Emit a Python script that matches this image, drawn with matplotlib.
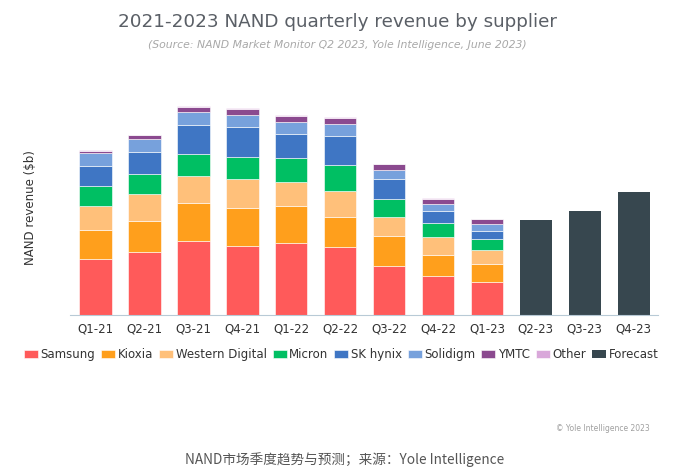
import numpy as np
import matplotlib
matplotlib.use('Agg')
import matplotlib.pyplot as plt

quarters = ['Q1-21', 'Q2-21', 'Q3-21', 'Q4-21', 'Q1-22', 'Q2-22', 'Q3-22', 'Q4-22', 'Q1-23',
            'Q2-23', 'Q3-23', 'Q4-23']
suppliers = ['Samsung', 'Kioxia', 'Western Digital', 'Micron', 'SK hynix', 'Solidigm', 'YMTC', 'Other']
colors = ['#FF5A5A', '#FF9F1C', '#FFC07A', '#00BF63', '#3F76C4', '#77A1DC', '#8B4A8F', '#D9A8DA']

# revenue, $b (Q1-21 .. Q1-23)
samsung = [5.12, 5.73, 6.73, 6.30, 6.52, 6.15, 4.43, 3.55, 2.97]
kioxia = [2.58, 2.82, 3.43, 3.43, 3.36, 2.73, 2.73, 1.91, 1.64]
western_digital = [2.18, 2.43, 2.48, 2.64, 2.21, 2.42, 1.75, 1.66, 1.33]
micron = [1.82, 1.82, 1.97, 2.00, 2.15, 2.31, 1.64, 1.22, 0.97]
sk_hynix = [1.87, 2.05, 2.64, 2.73, 2.21, 2.64, 1.82, 1.15, 0.75]
solidigm = [1.18, 1.18, 1.21, 1.06, 1.09, 1.09, 0.79, 0.64, 0.61]
ymtc = [0.18, 0.31, 0.45, 0.55, 0.57, 0.60, 0.55, 0.43, 0.43]
other = [0.06, 0.05, 0.09, 0.09, 0.09, 0.09, 0.05, 0.06, 0.05]
forecast = [8.61, 9.48, 11.15]  # Q2-23 .. Q4-23

series = [samsung, kioxia, western_digital, micron, sk_hynix, solidigm, ymtc, other]

fig = plt.figure(figsize=(6.75, 4.69), dpi=100)
ax = fig.add_axes([0.104, 0.328, 0.871, 0.458])

x = np.arange(len(quarters))
w = 0.66
bottom = np.zeros(len(samsung))
for name, vals, c in zip(suppliers, series, colors):
    ax.bar(x[:len(vals)], vals, w, bottom=bottom, color=c, label=name, edgecolor='white', linewidth=0.4)
    bottom += np.array(vals)
ax.bar(x[len(samsung):], forecast, w, color='#37474F', label='Forecast')

ax.set_xlim(-0.52, 11.5)
ax.set_ylim(0, 19.5)
ax.set_xticks(x)
ax.set_xticklabels(quarters, fontsize=8.5, color='#333333')
ax.tick_params(axis='x', length=0, pad=5)
ax.set_yticks([])
for s in ['top', 'right', 'left']:
    ax.spines[s].set_visible(False)
ax.spines['bottom'].set_color('#B8CAD6')
ax.set_ylabel('NAND revenue ($b)', fontsize=8.5, color='#333333', labelpad=24)

fig.text(0.5, 0.953, '2021-2023 NAND quarterly revenue by supplier', ha='center', va='center',
         fontsize=13.2, color='#5A5F66')
fig.text(0.5, 0.904, '(Source: NAND Market Monitor Q2 2023, Yole Intelligence, June 2023)', ha='center',
         va='center', fontsize=7.8, color='#A8A8A8', style='italic')

ax.legend(loc='upper center', bbox_to_anchor=(0.461, -0.105), ncol=9, frameon=False, fontsize=8.5,
          handlelength=1.2, handleheight=0.7, handletextpad=0.2, columnspacing=0.5,
          labelcolor='#333333')

fig.text(0.962, 0.087, '© Yole Intelligence 2023', ha='right', va='center', fontsize=5.5, color='#A0A0A0')
fig.text(0.51, 0.019, 'NAND市场季度趋势与预测；来源：Yole Intelligence', ha='center', va='center',
         fontsize=9.8, color='#555555', family=['Noto Sans CJK SC', 'DejaVu Sans'])

fig.savefig('out.png', dpi=100)
